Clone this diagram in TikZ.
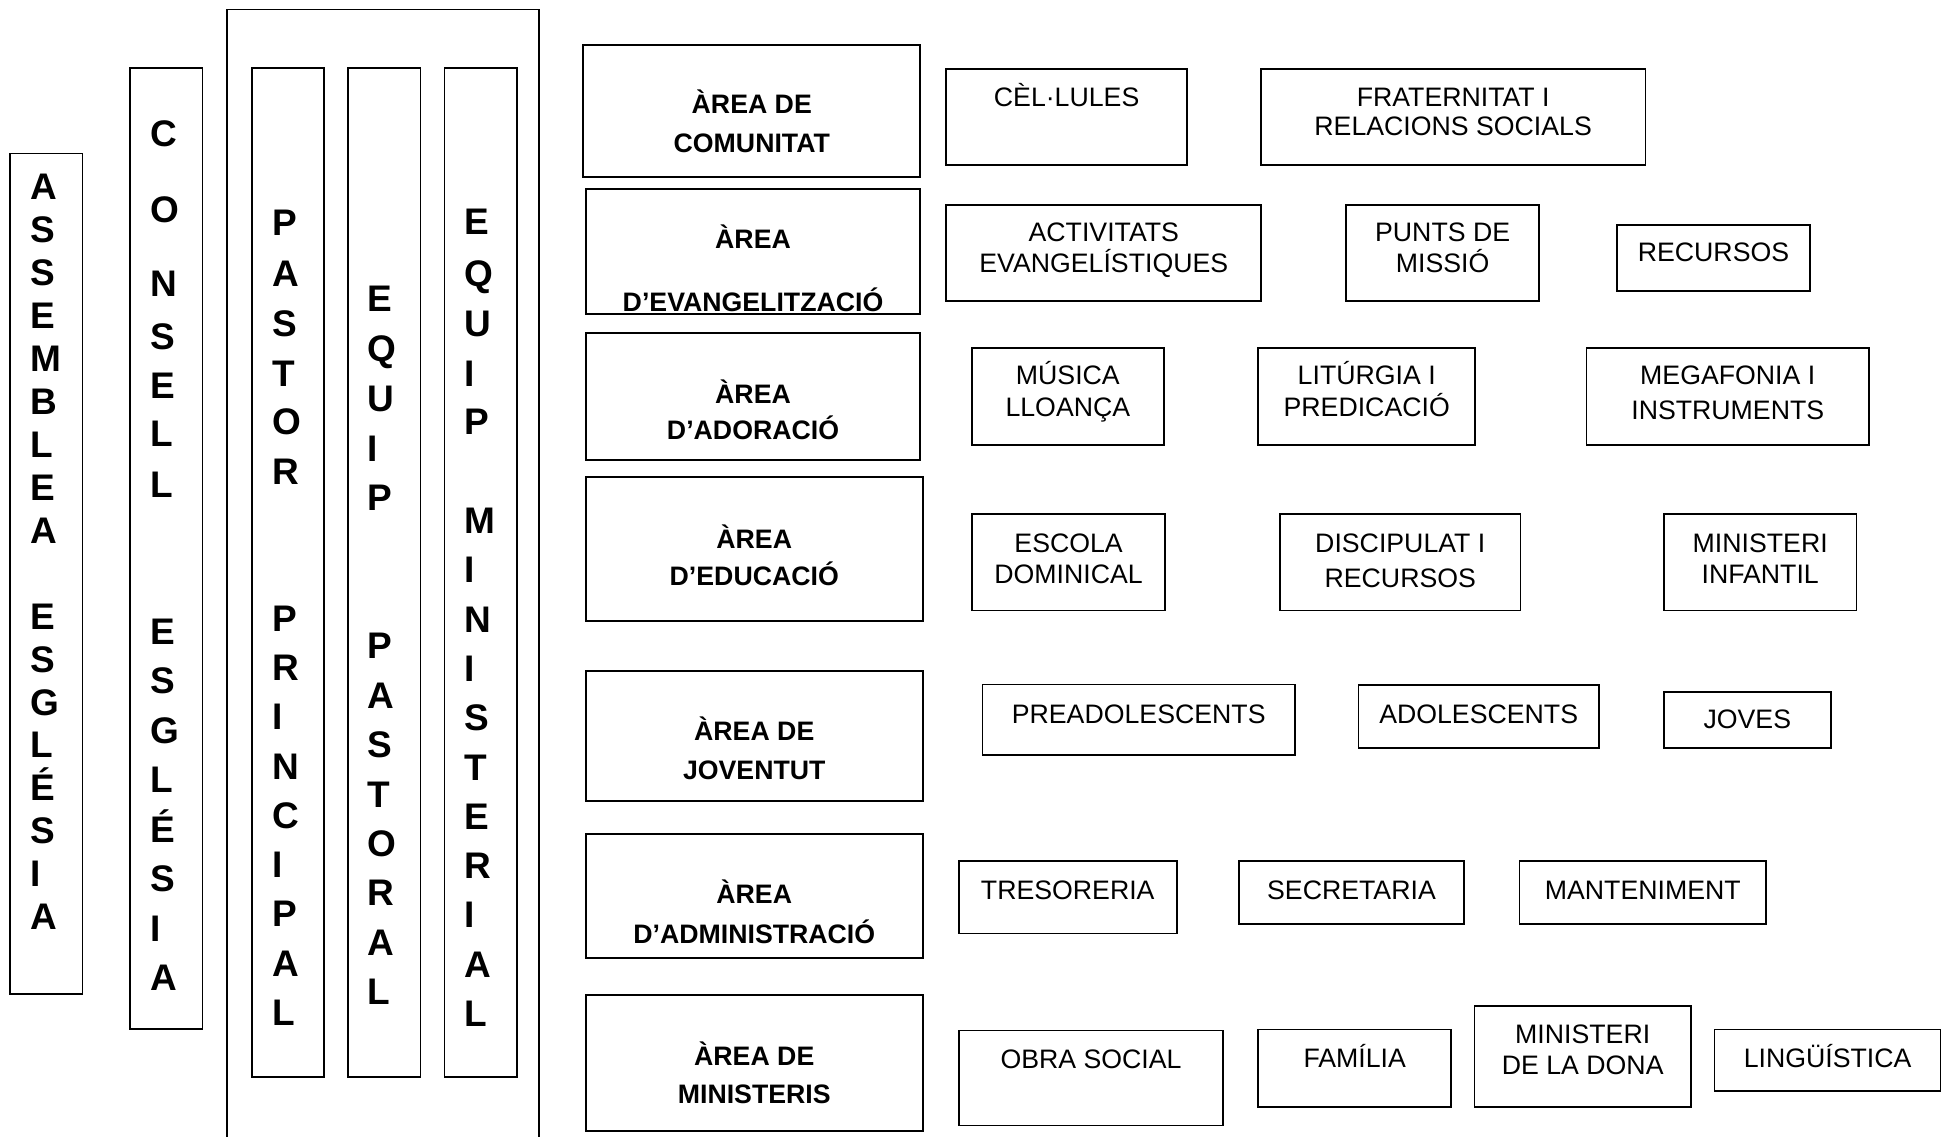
\documentclass[tikz,border=0pt]{standalone}
\usepackage{fontspec}
\setmainfont{Liberation Sans}
\usetikzlibrary{fit}
\begin{document}
\begin{tikzpicture}[x=1.2385pt,y=-1.2385pt,
  frame/.style={draw=black,line width=1.6pt,inner sep=0pt,fit={#1}},
  aframe/.style={draw=black,line width=2pt,inner sep=0pt,fit={#1}},
  vl/.style={font=\bfseries\fontsize{37}{44}\selectfont,anchor=base west,inner sep=0pt},
  ab/.style={font=\bfseries\fontsize{26.7}{31}\selectfont,anchor=base,inner sep=0pt},
  sb/.style={font=\fontsize{26.7}{31}\selectfont,anchor=base,inner sep=0pt}]
\useasboundingbox (0,0) rectangle (1568,918);

% ---------- left vertical columns ----------
\node[frame={(183.5,7.8) (435.2,935)}] (team) {};
\node[frame={(8.1,124) (66.5,802.5)}] (asm) {};
\node[frame={(105,55) (163.4,831)}] (cons) {};
\node[frame={(203.7,55) (261.6,869.7)}] (past) {};
\node[frame={(281.2,55) (339.4,869.7)}] (eqp) {};
\node[frame={(358.8,55) (417.2,869.7)}] (eqm) {};

\foreach \ch/\k [count=\i] in {A/0,S/1,S/2,E/3,M/4,B/5,L/6,E/7,A/8,E/10,S/11,G/12,L/13,É/14,S/15,I/16,A/17}
  \node[vl] (asm\i) at (24.5,160.9+34.7*\k) {\ch};

\foreach \ch/\b [count=\i] in {C/118.4,O/179.4,N/239.4,S/281.9,E/321.5,L/360.5,L/401.4,E/520.4,S/560.3,G/600.2,L/640.1,É/680,S/719.9,I/759.8,A/799.7}
  \node[vl] (cons\i) at (121,\b) {\ch};

\foreach \ch/\b [count=\i] in {P/189.8,A/231.4,S/271.9,T/312.1,O/351.1,R/390.9,P/509.9,R/549.7,I/589.4,N/629.2,C/668.9,I/708.7,P/748.4,A/788.2,L/827.9}
  \node[vl] (past\i) at (219.5,\b) {\ch};

\foreach \ch/\b [count=\i] in {E/251.5,Q/291.9,U/332.3,I/372.6,P/412.4,P/531.9,A/571.8,S/611.7,T/651.6,O/691.5,R/731.4,A/771.3,L/811.2}
  \node[vl] (eqp\i) at (296.8,\b) {\ch};

\foreach \ch/\b [count=\i] in {E/189.6,Q/231.3,U/271.7,I/312.1,P/351.1,M/430.9,I/470.4,N/510.4,I/550.2,S/590,T/629.8,E/669.6,R/709.4,I/749.2,A/789,L/828.8}
  \node[vl] (eqm\i) at (374.8,\b) {\ch};

% ---------- area boxes ----------
\node[aframe={(471,36) (743,143)}] (a1) {};
\node[ab] (a1a) at (607,91.5) {ÀREA DE};
\node[ab] (a1b) at (607,123.2) {COMUNITAT};

\node[aframe={(473,152.5) (743,253.5)}] (a2) {};
\node[ab] (a2a) at (608,200.5) {ÀREA};
\node[ab] (a2b) at (608,251.6) {D’EVANGELITZACIÓ};

\node[aframe={(473,269) (743,371.4)}] (a3) {};
\node[ab] (a3a) at (608,325.6) {ÀREA};
\node[ab] (a3b) at (608,355.2) {D’ADORACIÓ};

\node[aframe={(473,385.4) (745,501)}] (a4) {};
\node[ab] (a4a) at (609,442.9) {ÀREA};
\node[ab] (a4b) at (609,472.6) {D’EDUCACIÓ};

\node[aframe={(473,541.7) (745,647)}] (a5) {};
\node[ab] (a5a) at (609,598.2) {ÀREA DE};
\node[ab] (a5b) at (609,629.6) {JOVENTUT};

\node[aframe={(473,673.2) (745,773.4)}] (a6) {};
\node[ab] (a6a) at (609,729.1) {ÀREA};
\node[ab] (a6b) at (609,761.5) {D’ADMINISTRACIÓ};

\node[aframe={(473,803) (745,913.3)}] (a7) {};
\node[ab] (a7a) at (609,859.9) {ÀREA DE};
\node[ab] (a7b) at (609,890.6) {MINISTERIS};

% ---------- row 1 ----------
\node[frame={(764,55.7) (958.4,133.2)}] (cel) {};
\node[sb] (celt) at (861.2,86.1) {CÈL·LULES};
\node[frame={(1018,55.7) (1328.6,133.2)}] (fra) {};
\node[sb] (frat) at (1173.3,85.6) {FRATERNITAT I};
\node[sb] (frab) at (1173.3,109.8) {RELACIONS SOCIALS};

% ---------- row 2 ----------
\node[frame={(764,165.5) (1018.3,243)}] (act) {};
\node[sb] (actt) at (891.2,195.1) {ACTIVITATS};
\node[sb] (actb) at (891.2,220.1) {EVANGELÍSTIQUES};
\node[frame={(1087,165.5) (1242.5,243)}] (pun) {};
\node[sb] (punt) at (1164.8,195.1) {PUNTS DE};
\node[sb] (punb) at (1164.8,220.1) {MISSIÓ};
\node[frame={(1305.5,181.7) (1461.4,235)}] (rec) {};
\node[sb] (rect) at (1383.5,211.3) {RECURSOS};

% ---------- row 3 ----------
\node[frame={(784.6,281.2) (939.7,359.3)}] (mus) {};
\node[sb] (must) at (862.2,310.8) {MÚSICA};
\node[sb] (musb) at (862.2,336.4) {LLOANÇA};
\node[frame={(1015.8,281.2) (1191.1,359.3)}] (lit) {};
\node[sb] (litt) at (1103.5,310.8) {LITÚRGIA I};
\node[sb] (litb) at (1103.5,336.4) {PREDICACIÓ};
\node[frame={(1281,281.2) (1509,359.3)}] (meg) {};
\node[sb] (megt) at (1395,310.8) {MEGAFONIA I};
\node[sb] (megb) at (1395,339.1) {INSTRUMENTS};

% ---------- row 4 ----------
\node[frame={(784.9,415) (940.7,492.8)}] (esc) {};
\node[sb] (esct) at (862.8,446.4) {ESCOLA};
\node[sb] (escb) at (862.8,471.5) {DOMINICAL};
\node[frame={(1033.4,415) (1227.8,492.8)}] (dis) {};
\node[sb] (dist) at (1130.6,446.4) {DISCIPULAT I};
\node[sb] (disb) at (1130.6,474.3) {RECURSOS};
\node[frame={(1343.3,415) (1499.1,492.8)}] (inf) {};
\node[sb] (inft) at (1421.2,446.4) {MINISTERI};
\node[sb] (infb) at (1421.2,471.5) {INFANTIL};

% ---------- row 5 ----------
\node[frame={(793.2,552.8) (1045.5,609.7)}] (pre) {};
\node[sb] (pret) at (919.4,584.2) {PREADOLESCENTS};
\node[frame={(1096.9,553.2) (1290.9,603.8)}] (ado) {};
\node[sb] (adot) at (1193.9,584.2) {ADOLESCENTS};
\node[frame={(1343.3,558.8) (1478.2,603.8)}] (jov) {};
\node[sb] (jovt) at (1410.8,588.4) {JOVES};

% ---------- row 6 ----------
\node[frame={(774.1,695.2) (950.1,753.8)}] (tre) {};
\node[sb] (tret) at (862.1,726.6) {TRESORERIA};
\node[frame={(1000.4,695.2) (1181.9,745.8)}] (sec) {};
\node[sb] (sect) at (1091.2,726.6) {SECRETARIA};
\node[frame={(1227,695.2) (1425.8,745.8)}] (man) {};
\node[sb] (mant) at (1326.4,726.6) {MANTENIMENT};

% ---------- row 7 ----------
\node[frame={(774.1,832) (987.6,908.7)}] (obr) {};
\node[sb] (obrt) at (880.9,862.7) {OBRA SOCIAL};
\node[frame={(1015.8,831.3) (1171.7,893.7)}] (fam) {};
\node[sb] (famt) at (1093.8,861.6) {FAMÍLIA};
\node[frame={(1190.4,812.1) (1365.3,893.7)}] (don) {};
\node[sb] (dont) at (1277.9,842.4) {MINISTERI};
\node[sb] (donb) at (1277.9,867.6) {DE LA DONA};
\node[frame={(1384.4,831.3) (1566.8,880.8)}] (lin) {};
\node[sb] (lint) at (1475.6,861.6) {LINGÜÍSTICA};
\end{tikzpicture}
\end{document}
